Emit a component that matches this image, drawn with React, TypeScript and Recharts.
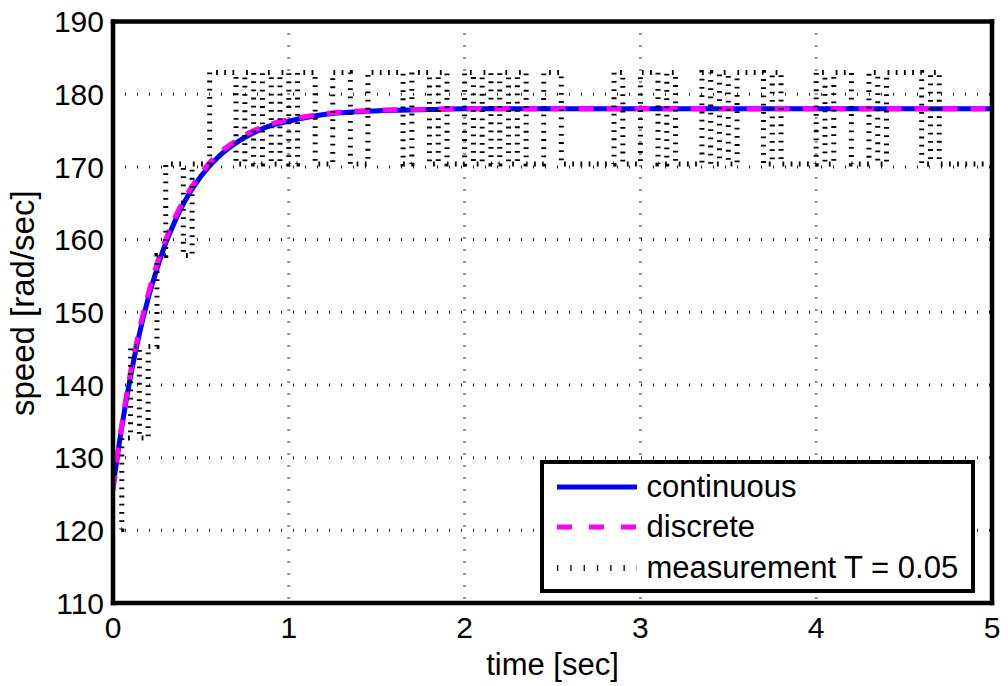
import React from 'react';
import { LineChart, Line, XAxis, YAxis, CartesianGrid, Legend } from 'recharts';

const FONT = '"Liberation Sans", Arial, Helvetica, sans-serif';

// x-axis / y-axis ticks
const xTicks = [0, 1, 2, 3, 4, 5];
const yTicks = [110, 120, 130, 140, 150, 160, 170, 180, 190];

// continuous and discrete responses (speed in rad/sec)
const respTimes = [0, 0.05, 0.1, 0.15, 0.2, 0.25, 0.3, 0.35, 0.4, 0.5, 0.6, 0.7, 0.8, 0.9, 1.0, 1.2, 1.4, 1.6, 1.8, 2.0, 2.5, 3, 4, 5];
const contSpeeds = [126.0, 134.2, 141.2, 147.0, 151.9, 156.0, 159.5, 162.4, 164.9, 168.7, 171.4, 173.3, 174.7, 175.7, 176.3, 177.2, 177.6, 177.8, 177.9, 178.0, 178.0, 178.0, 178.0, 178.0];
const discSpeeds = [125.5, 134.5, 141.8, 147.6, 152.5, 156.6, 160.0, 162.9, 165.3, 169.1, 171.8, 173.6, 175.0, 175.9, 176.5, 177.3, 177.7, 177.85, 177.95, 178.0, 178.0, 178.0, 178.0, 178.0];

// measurement (held samples, T = 0.05), listed at the instants where it changes
const measTimes = [0, 0.05, 0.1, 0.15, 0.2, 0.25, 0.3, 0.4, 0.45, 0.55, 0.7, 0.75, 0.8, 0.85, 0.9, 0.95, 1.0, 1.05, 1.15, 1.25, 1.35, 1.45, 1.65, 1.7, 1.8, 1.85, 1.9, 2.0, 2.05, 2.1, 2.15, 2.2, 2.25, 2.3, 2.35, 2.45, 2.55, 2.85, 2.9, 3.0, 3.1, 3.15, 3.2, 3.35, 3.4, 3.45, 3.5, 3.55, 3.7, 3.75, 3.8, 4.0, 4.05, 4.1, 4.2, 4.3, 4.35, 4.4, 4.6, 4.65, 4.7, 5.0];
const measSpeeds = [120.1, 132.7, 145.3, 132.7, 145.3, 157.8, 170.4, 157.8, 170.4, 183.0, 170.4, 183.0, 170.4, 183.0, 170.4, 183.0, 170.4, 183.0, 170.4, 183.0, 170.4, 183.0, 170.4, 183.0, 170.4, 183.0, 170.4, 183.0, 170.4, 183.0, 170.4, 183.0, 170.4, 183.0, 170.4, 183.0, 170.4, 183.0, 170.4, 183.0, 170.4, 183.0, 170.4, 183.0, 170.4, 183.0, 170.4, 183.0, 170.4, 183.0, 170.4, 183.0, 170.4, 183.0, 170.4, 183.0, 170.4, 183.0, 170.4, 183.0, 170.4, 170.4];

const legendNames = ['continuous', 'discrete', 'measurement T = 0.05'];

const contData = respTimes.map((t, i) => ({ t, v: contSpeeds[i] }));
const discData = respTimes.map((t, i) => ({ t, v: discSpeeds[i] }));
const measData = measTimes.map((t, i) => ({ t, v: measSpeeds[i] }));

const BLUE = '#0000ff';
const MAGENTA = '#ff00ff';

const legendSamples = [
  { stroke: BLUE, strokeWidth: 5, dash: undefined as string | undefined },
  { stroke: MAGENTA, strokeWidth: 5, dash: '15 17' },
  { stroke: '#000', strokeWidth: 6, dash: '1.3 12' },
];

const renderLegend = () => (
  <div
    style={{
      boxSizing: 'border-box',
      width: 435,
      height: 133,
      border: '4.5px solid #000',
      background: '#fff',
      fontFamily: FONT,
      fontSize: 31,
      position: 'relative',
      color: '#000',
    }}
  >
    {legendNames.map((name, i) => (
      <div
        key={name}
        style={{ position: 'absolute', left: 12.5, top: 2.5 + i * 40.5, height: 40, display: 'flex', alignItems: 'center' }}
      >
        <svg width={80} height={20} style={{ display: 'block' }}>
          <line
            x1={0}
            x2={80}
            y1={10}
            y2={10}
            stroke={legendSamples[i].stroke}
            strokeWidth={legendSamples[i].strokeWidth}
            strokeDasharray={legendSamples[i].dash}
          />
        </svg>
        <span style={{ marginLeft: 10, lineHeight: '40px', whiteSpace: 'nowrap' }}>{name}</span>
      </div>
    ))}
  </div>
);

const frameLine = { stroke: '#000', strokeWidth: 4.5, strokeLinecap: 'square' as const };
const tickMark = { stroke: '#000', strokeWidth: 4 };

export default function App() {
  return (
    <div style={{ marginLeft: -8, marginTop: -8, width: 1008, height: 686, background: '#fff' }}>
      <LineChart width={1008} height={686} margin={{ top: 21.5, right: 16, bottom: 0, left: 0 }} style={{ fontFamily: FONT }}>
        <CartesianGrid stroke="#222" strokeWidth={3} strokeDasharray="1 11" />
        <XAxis
          dataKey="t"
          type="number"
          domain={[0, 5]}
          ticks={xTicks}
          allowDataOverflow
          height={83}
          axisLine={false}
          tickLine={false}
          tickSize={0}
          tickMargin={14}
          tick={{ fill: '#000', fontSize: 30, fontFamily: FONT }}
          label={{
            content: (p: any) => (
              <text
                x={p.viewBox.x + p.viewBox.width / 2}
                y={p.viewBox.y + 72}
                textAnchor="middle"
                fontSize={31}
                fontFamily={FONT}
                fill="#000"
              >
                time [sec]
              </text>
            ),
          }}
        />
        <XAxis xAxisId="bm" dataKey="t" type="number" domain={[0, 5]} ticks={xTicks} mirror tick={false} tickSize={8} tickLine={tickMark} axisLine={frameLine} />
        <XAxis xAxisId="tm" dataKey="t" type="number" domain={[0, 5]} ticks={xTicks} orientation="top" mirror tick={false} tickSize={8} tickLine={tickMark} axisLine={frameLine} />
        <YAxis
          type="number"
          domain={[110, 190]}
          ticks={yTicks}
          allowDataOverflow
          width={113}
          axisLine={false}
          tickLine={false}
          tickSize={0}
          tickMargin={9}
          tick={{ fill: '#000', fontSize: 30, fontFamily: FONT }}
          label={{
            content: (p: any) => {
              const cx = 33.5;
              const cy = p.viewBox.y + p.viewBox.height / 2 - 9;
              return (
                <text x={cx} y={cy} transform={`rotate(-90, ${cx}, ${cy})`} textAnchor="middle" fontSize={33} fontFamily={FONT} fill="#000">
                  speed [rad/sec]
                </text>
              );
            },
          }}
        />
        <YAxis yAxisId="lm" type="number" domain={[110, 190]} ticks={yTicks} mirror tick={false} tickSize={8} tickLine={tickMark} axisLine={frameLine} />
        <YAxis yAxisId="rm" type="number" domain={[110, 190]} ticks={yTicks} orientation="right" mirror tick={false} tickSize={8} tickLine={tickMark} axisLine={frameLine} />
        <Line data={contData} dataKey="v" type="monotone" stroke={BLUE} strokeWidth={5} dot={false} isAnimationActive={false} />
        <Line data={discData} dataKey="v" type="monotone" stroke={MAGENTA} strokeWidth={5} strokeDasharray="15 13" dot={false} isAnimationActive={false} />
        <Line data={measData} dataKey="v" type="stepAfter" stroke="#000" strokeWidth={5} strokeDasharray="1.8 6.4" dot={false} isAnimationActive={false} />
        <Legend
          layout="horizontal"
          verticalAlign="middle"
          align="center"
          content={renderLegend}
          wrapperStyle={{ left: 540, top: 460, width: 435, height: 133 }}
        />
      </LineChart>
    </div>
  );
}
